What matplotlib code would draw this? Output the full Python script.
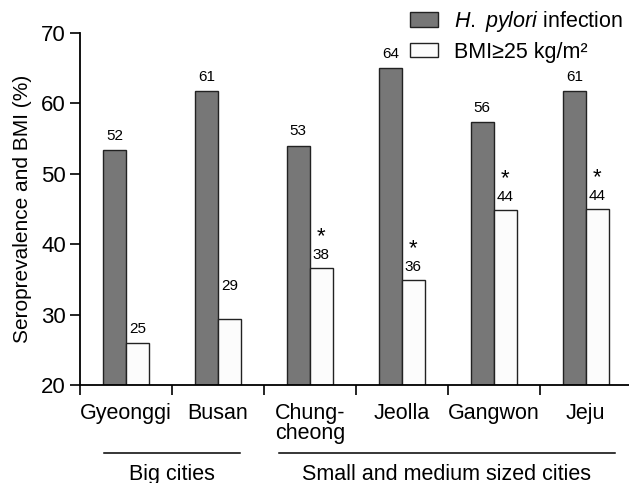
import numpy as np
import matplotlib
matplotlib.use("Agg")
import matplotlib.pyplot as plt
import matplotlib.transforms as mtransforms

regions = ["Gyeonggi", "Busan", "Chung-\ncheong", "Jeolla", "Gangwon", "Jeju"]
hp_values = [53.4, 61.7, 54.0, 65.0, 57.3, 61.7]
bmi_values = [26.0, 29.3, 36.6, 34.9, 44.8, 45.0]
hp_labels = ["52", "61", "53", "64", "56", "61"]
bmi_labels = ["25", "29", "38", "36", "44", "44"]
bmi_signif = [False, False, True, True, True, True]
groups = ["Big cities", "Small and medium sized cities"]

plt.rcParams["font.family"] = ["Liberation Sans", "DejaVu Sans"]
plt.rcParams["mathtext.fontset"] = "custom"
plt.rcParams["mathtext.rm"] = "Liberation Sans"
plt.rcParams["mathtext.it"] = "Liberation Sans:italic"

fig = plt.figure(figsize=(6.29, 4.83), dpi=100)
ax = fig.add_axes([0.127, 0.203, 0.873, 0.729])

x = np.arange(len(regions))
w = 0.25
ax.bar(x - w / 2, np.array(hp_values) - 20, w, bottom=20, color="#777777",
       edgecolor="#222222", linewidth=1.0, label="$\\it{H.\\ pylori}$ infection")
ax.bar(x + w / 2, np.array(bmi_values) - 20, w, bottom=20, color="#fcfcfc",
       edgecolor="#222222", linewidth=1.0, label="BMI≥25 kg/m²")

for i in range(len(regions)):
    ax.text(x[i] - w / 2, hp_values[i] + 1.0, hp_labels[i], ha="center",
            va="bottom", fontsize=11)
    # Busan label sits well above its bar in the original
    off = 3.8 if i == 1 else 0.9
    ax.text(x[i] + w / 2, bmi_values[i] + off, bmi_labels[i], ha="center",
            va="bottom", fontsize=11)
    if bmi_signif[i]:
        ax.text(x[i] + w / 2, bmi_values[i] + 3.0, "*", ha="center",
                va="bottom", fontsize=16)

ax.set_xlim(-0.5, 5.47)
ax.set_ylim(20, 70)
ax.set_yticks([20, 30, 40, 50, 60, 70])
ax.set_xticks(np.arange(-0.5, 5, 1.0))
ax.set_xticklabels([])
ax.set_xticks(x, minor=True)
ax.set_xticklabels(regions, minor=True, fontsize=15.5, va="top", linespacing=0.95)
ax.tick_params(axis="x", which="minor", length=0, pad=13)
ax.tick_params(axis="x", which="major", length=7, width=1.2, direction="out")
ax.tick_params(axis="y", length=7, width=1.2, labelsize=16, pad=3)
ax.spines["top"].set_visible(False)
ax.spines["right"].set_visible(False)
ax.spines["left"].set_linewidth(1.3)
ax.spines["bottom"].set_linewidth(1.3)
ax.set_ylabel("Seroprevalence and BMI (%)", fontsize=15, labelpad=7)

trans = mtransforms.blended_transform_factory(ax.transData, ax.transAxes)
ax.plot([-0.24, 1.24], [-0.193, -0.193], color="black", lw=1.1,
        transform=trans, clip_on=False)
ax.plot([1.66, 5.32], [-0.193, -0.193], color="black", lw=1.1,
        transform=trans, clip_on=False)
ax.text(0.5, -0.253, groups[0], transform=trans, ha="center", va="center",
        fontsize=15.5)
ax.text(3.49, -0.253, groups[1], transform=trans, ha="center", va="center",
        fontsize=15.5)

fig.legend(loc="upper left", bbox_to_anchor=(410 / 629, 1 - 9 / 483),
           frameon=False, fontsize=15.5, handlelength=1.3, handleheight=0.65,
           labelspacing=0.35, borderaxespad=0, borderpad=0, handletextpad=0.75)

fig.savefig("out.png", dpi=100)
